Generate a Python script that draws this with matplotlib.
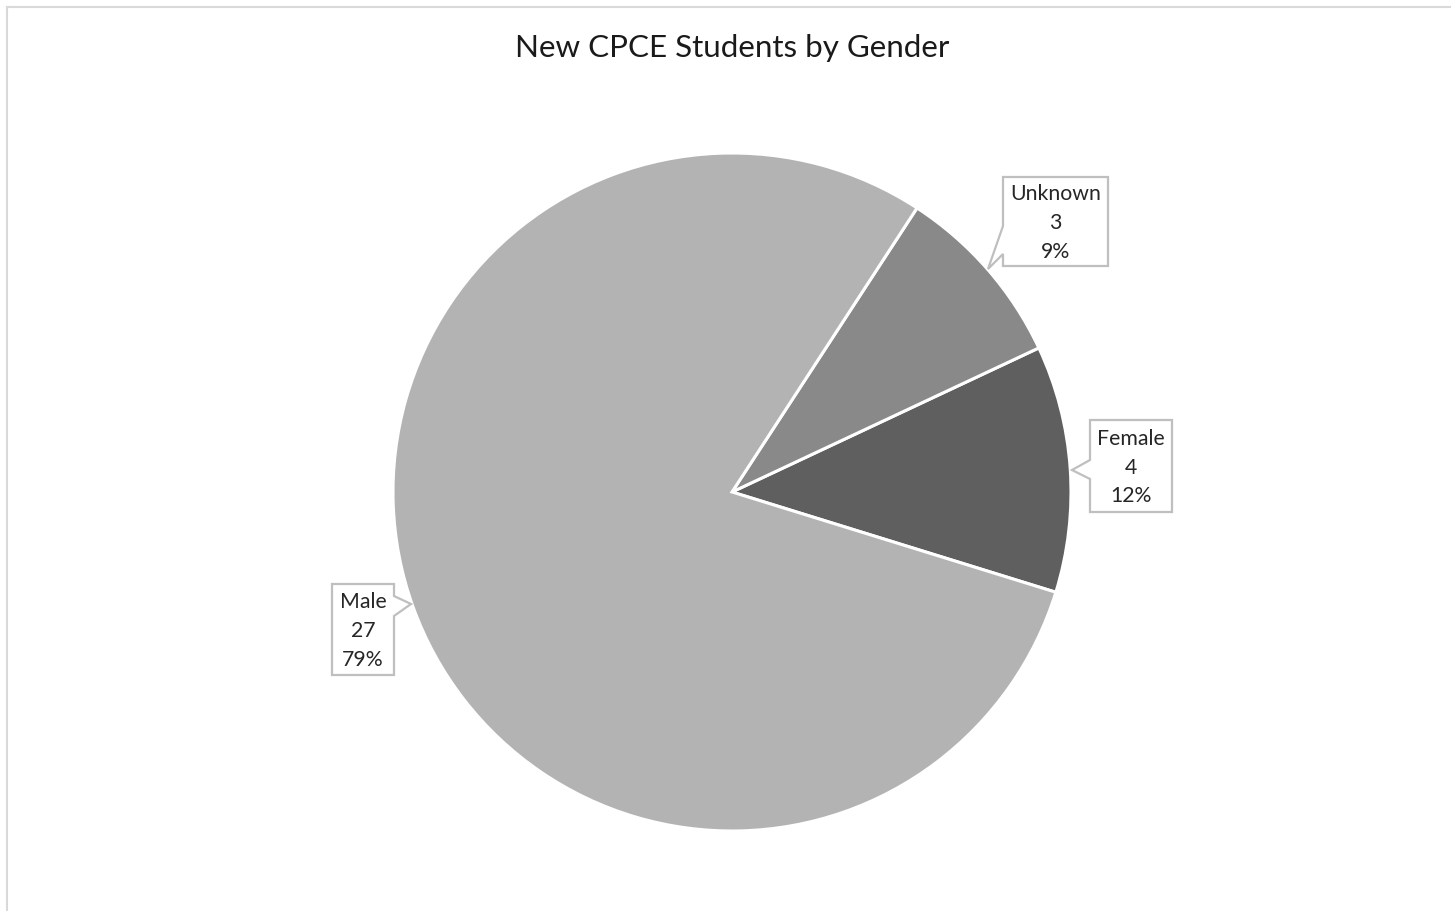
import matplotlib
matplotlib.use('Agg')
import matplotlib.pyplot as plt
from matplotlib.patches import Polygon
from matplotlib.lines import Line2D

# data
genders = ['Female', 'Unknown', 'Male']
counts = [4, 3, 27]
colors = ['#5f5f5f', '#898989', '#b3b3b3']
title = 'New CPCE Students by Gender'

W, H = 1451, 911
plt.rcParams['font.family'] = ['Lato', 'DejaVu Sans']

fig = plt.figure(figsize=(W / 100, H / 100), dpi=100)
ax = fig.add_axes([0, 0, 1, 1])

def py(y):
    # pixel row (from top) -> data y
    return H - y

ax.pie(counts, colors=colors, startangle=-17.2, counterclock=True,
       center=(732, py(492)), radius=339, frame=True,
       wedgeprops=dict(edgecolor='white', linewidth=2.2))
ax.set_xlim(0, W)
ax.set_ylim(0, H)
ax.axis('off')

# outer chart frame (only top and left edges visible)
ax.add_line(Line2D([6.5, 6.5], [0, py(6.5)], color='#d9d9d9', lw=1.5))
ax.add_line(Line2D([6.5, W], [py(6.5), py(6.5)], color='#d9d9d9', lw=1.5))

ax.text(732, py(48.5), title, ha='center', va='center', fontsize=22.6, color='#1a1a1a')

# callout boxes: (x0, y0, x1, y1), notch side, notch y range, tip
callouts = {
    'Unknown': ((1003, 177, 1108, 266), 'left', (226, 254), (988, 269)),
    'Female': ((1090, 420, 1172, 512), 'left', (460, 479), (1072, 470)),
    'Male': ((332, 584, 394, 675), 'right', (596, 616), (411, 604)),
}

total = sum(counts)
for name, n in zip(genders, counts):
    (x0, y0, x1, y1), side, (ya, yb), (tx, ty) = callouts[name]
    if side == 'left':
        pts = [(x0, y0), (x1, y0), (x1, y1), (x0, y1), (x0, yb), (tx, ty), (x0, ya)]
    else:
        pts = [(x0, y0), (x1, y0), (x1, ya), (tx, ty), (x1, yb), (x1, y1), (x0, y1)]
    pts = [(x, py(y)) for x, y in pts]
    ax.add_patch(Polygon(pts, closed=True, facecolor='white', edgecolor='#bfbfbf',
                         lw=1.6, zorder=5))
    pct = round(100 * n / total)
    ax.text((x0 + x1) / 2, py((y0 + y1) / 2 + 1.5), f'{name}\n{n}\n{pct}%',
            ha='center', va='center', fontsize=15.3, color='#262626',
            linespacing=1.55, zorder=6)

fig.savefig('out.png', dpi=100, facecolor='white')
